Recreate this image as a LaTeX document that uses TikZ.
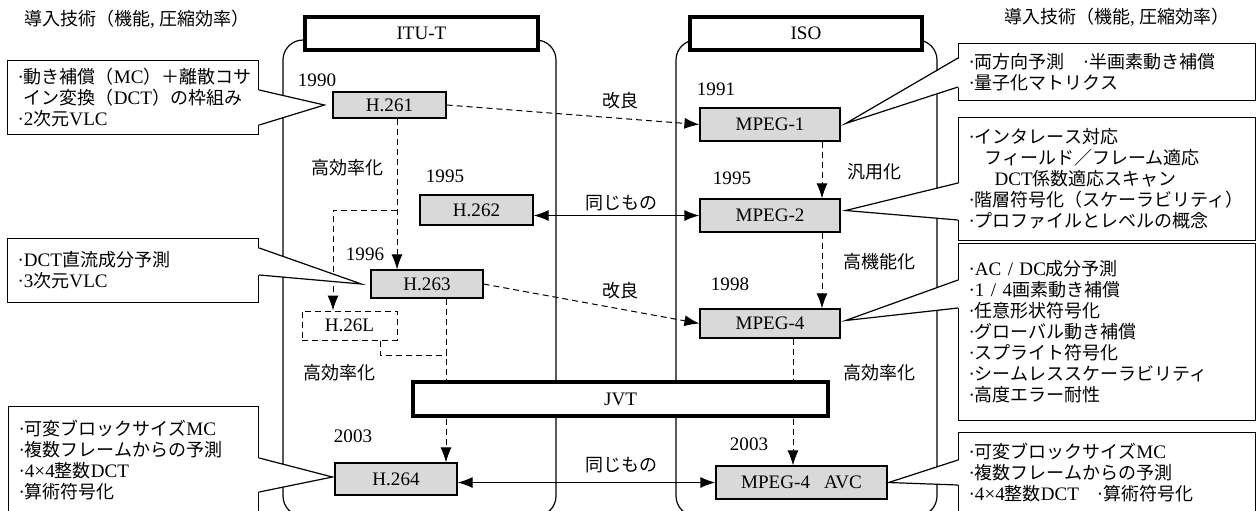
\documentclass[tikz,border=0pt]{standalone}
\usepackage{fontspec}
\setmainfont{Liberation Serif}[Scale=1.06]
\newfontfamily\jpfont{Noto Sans CJK JP}
\newcommand{\ja}[1]{{\jpfont #1}}
\usetikzlibrary{arrows.meta,calc}
\definecolor{boxgray}{gray}{0.85}
\tikzset{
  stdbox/.style={draw, line width=0.6pt, fill=boxgray, inner sep=0pt},
  headbox/.style={draw, line width=1.6pt, fill=white, inner sep=0pt},
  newbox/.style={draw, dash pattern=on 3pt off 2pt, line width=0.5pt, fill=white, inner sep=0pt},
  note/.style={draw, fill=white, line width=0.6pt, anchor=north west, inner xsep=5pt, inner ysep=0pt, align=left},
  dline/.style={line width=0.5pt, dash pattern=on 3pt off 2pt},
}
\begin{document}
\begin{tikzpicture}[x=0.5pt, y=-0.5pt, >={Latex[length=7.5pt,width=5.5pt]}, line width=0.6pt, font=\fontsize{9}{10.5}\selectfont]

  % ==================== 画布 ====================
  \useasboundingbox (0,0) rectangle (1257,510);
  \clip (0,0) rectangle (1257,510);

  % 1. 两个组织的圆角栏（最底层）
  \draw[rounded corners=10pt] (283,40) rectangle (556,516);
  \draw[rounded corners=10pt] (676,40) rectangle (937,516);

  % 2. 栏头
  \node[headbox, minimum width=116.5pt, minimum height=16.5pt] (itut) at (421.5,33.5) {ITU-T};
  \node[headbox, minimum width=116pt, minimum height=16.5pt] (iso) at (806,33.5) {ISO};

  % 3. 标准方框
  \node[stdbox, minimum width=56.5pt, minimum height=13pt] (h261) at (389.5,105) {H.261};
  \node[stdbox, minimum width=70pt, minimum height=16.5pt] (mpeg1) at (770,124.5) {MPEG-1};
  \node[stdbox, minimum width=56.5pt, minimum height=15pt] (h262) at (476.5,210) {H.262};
  \node[stdbox, minimum width=70pt, minimum height=16.5pt] (mpeg2) at (770,215.5) {MPEG-2};
  \node[stdbox, minimum width=56pt, minimum height=14pt] (h263) at (427,284) {H.263};
  \node[stdbox, minimum width=70pt, minimum height=14.5pt] (mpeg4) at (770,323.5) {MPEG-4};
  \node[newbox, minimum width=47.5pt, minimum height=14.5pt] (h26l) at (349.5,325.5) {H.26L};
  \node[stdbox, minimum width=61pt, minimum height=16pt] (h264) at (396,479) {H.264};
  \node[stdbox, minimum width=85.5pt, minimum height=16.5pt] (avc) at (801.5,482.5) {MPEG-4\hspace{7pt}AVC};

  % 4. 虚线箭头（JVT 之前画，被其遮住）
  \coordinate (b1) at (397,210);
  \coordinate (b2) at (333,210);
  \coordinate (b3) at (380,355);
  \coordinate (b4) at (446,355);
  \coordinate (r1) at (822,0);
  \coordinate (r2) at (793,0);
  \draw[dline,->] (h261.east) -- (mpeg1.west);
  \draw[dline,->] (h261.south -| b1) -- (h263.north -| b1);
  \draw[dline,->] (b1) -- (b2) -- (h26l.north -| b2);
  \draw[dline,->] (h263.east) -- (mpeg4.west);
  \draw[dline,->] (h263.south -| b4) -- (h264.north -| b4);
  \draw[dline] (h26l.south -| b3) -- (b3) -- (b4);
  \draw[dline,->] (mpeg1.south -| r1) -- (mpeg2.north -| r1);
  \draw[dline,->] (mpeg2.south -| r1) -- (mpeg4.north -| r1);
  \draw[dline,->] (mpeg4.south -| r2) -- (avc.north -| r2);

  % 5. 实线双向箭头
  \draw[<->] (h262.east |- mpeg2.west) -- (mpeg2.west);
  \draw[<->] (h264.east |- avc.west) -- (avc.west);

  % 6. JVT
  \node[headbox, minimum width=207.5pt, minimum height=17pt] (jvt) at (620.5,399) {JVT};

  % 7. 年份与箭头说明
  \node (y1990) at (317,80) {1990};
  \node (y1991) at (716,89) {1991};
  \node (y1995a) at (445,176) {1995};
  \node (y1995b) at (732,178) {1995};
  \node (y1996) at (365,254) {1996};
  \node (y1998) at (730,284) {1998};
  \node (y2003a) at (353,436) {2003};
  \node (y2003b) at (749,444) {2003};
  \node (kai1) at (620,101) {\ja{改良}};
  \node (same1) at (621,203) {\ja{同じもの}};
  \node (kai2) at (620,291) {\ja{改良}};
  \node (same2) at (621,465) {\ja{同じもの}};
  \node (eff1) at (347,168) {\ja{高効率化}};
  \node (eff2) at (339,373) {\ja{高効率化}};
  \node (gen) at (874,172) {\ja{汎用化}};
  \node (func) at (879,262) {\ja{高機能化}};
  \node (eff3) at (879,373) {\ja{高効率化}};

  % ==================== 导入技术（左侧） ====================
  \node (headl) at (137,19) {\ja{導入技術（機能}, \ja{圧縮効率）}};

  \node[note, text width=115.5pt, minimum height=37pt] (c1) at (7,60)
    {·\ja{動き補償（}MC\ja{）＋離散コサ}\\
     \phantom{·}\ja{イン変換（}DCT\ja{）の枠組み}\\
     ·2\ja{次元}VLC};
  \coordinate (t1) at ($(h261.west)+(-8,0)$);
  \fill[white] ($(c1.north east)+(-2,30)$) -- (t1) -- ($(c1.north east)+(-2,65)$) -- cycle;
  \draw ($(c1.north east)+(0,30)$) -- (t1) -- ($(c1.north east)+(0,65)$);

  \node[note, text width=115.5pt, minimum height=32pt] (c2) at (7,238)
    {·DCT\ja{直流成分予測}\\
     ·3\ja{次元}VLC};
  \coordinate (t2) at ($(h263.west)+(-9,0)$);
  \fill[white] ($(c2.north east)+(-2,10)$) -- (t2) -- ($(c2.north east)+(-2,37)$) -- cycle;
  \draw ($(c2.north east)+(0,10)$) -- (t2) -- ($(c2.north east)+(0,37)$);

  \node[note, text width=115pt, minimum height=53pt] (c3) at (8,406)
    {·\ja{可変ブロックサイズ}MC\\
     ·\ja{複数フレームからの予測}\\
     ·4×4\ja{整数}DCT\\
     ·\ja{算術符号化}};
  \coordinate (t3) at ($(h264.west)+(-2,-2)$);
  \fill[white] ($(c3.north east)+(-2,52)$) -- (t3) -- ($(c3.north east)+(-2,86)$) -- cycle;
  \draw ($(c3.north east)+(0,52)$) -- (t3) -- ($(c3.north east)+(0,86)$);

  % ==================== 导入技术（右侧） ====================
  \node (headr) at (1117,17) {\ja{導入技術（機能}, \ja{圧縮効率）}};

  \node[note, text width=138.5pt, minimum height=28.5pt] (n1) at (958,43)
    {·\ja{両方向予測　}·\ja{半画素動き補償}\\
     ·\ja{量子化マトリクス}};
  \coordinate (s1) at ($(mpeg1.east)+(5,-1)$);
  \fill[white] ($(n1.north west)+(2,15)$) -- (s1) -- ($(n1.north west)+(2,44)$) -- cycle;
  \draw ($(n1.north west)+(0,15)$) -- (s1) -- ($(n1.north west)+(0,44)$);

  \node[note, text width=138.5pt, minimum height=61.5pt] (n2) at (958,117)
    {·\ja{インタレース対応}\\
     \hspace{8pt}\ja{フィールド／フレーム適応}\\
     \hspace{13pt}DCT\ja{係数適応スキャン}\\
     ·\ja{階層符号化（スケーラビリティ）}\\
     ·\ja{プロファイルとレベルの概念}};
  \coordinate (s2) at ($(mpeg2.east)+(5,-5)$);
  \fill[white] ($(n2.north west)+(2,66)$) -- (s2) -- ($(n2.north west)+(2,103)$) -- cycle;
  \draw ($(n2.north west)+(0,66)$) -- (s2) -- ($(n2.north west)+(0,103)$);

  \node[note, text width=138.5pt, minimum height=88.5pt] (n3) at (958,243)
    {·AC / DC\ja{成分予測}\\
     ·1 / 4\ja{画素動き補償}\\
     ·\ja{任意形状符号化}\\
     ·\ja{グローバル動き補償}\\
     ·\ja{スプライト符号化}\\
     ·\ja{シームレススケーラビリティ}\\
     ·\ja{高度エラー耐性}};
  \coordinate (s3) at ($(mpeg4.east)+(5,-3)$);
  \fill[white] ($(n3.north west)+(2,37)$) -- (s3) -- ($(n3.north west)+(2,65)$) -- cycle;
  \draw ($(n3.north west)+(0,37)$) -- (s3) -- ($(n3.north west)+(0,65)$);

  \node[note, text width=138.5pt, minimum height=40pt] (n4) at (958,432)
    {·\ja{可変ブロックサイズ}MC\\
     ·\ja{複数フレームからの予測}\\
     ·4×4\ja{整数}DCT\ja{　}·\ja{算術符号化}};
  \coordinate (s4) at ($(avc.east)+(1,0)$);
  \fill[white] ($(n4.north west)+(2,28)$) -- (s4) -- ($(n4.north west)+(2,53)$) -- cycle;
  \draw ($(n4.north west)+(0,28)$) -- (s4) -- ($(n4.north west)+(0,53)$);

\end{tikzpicture}
\end{document}
